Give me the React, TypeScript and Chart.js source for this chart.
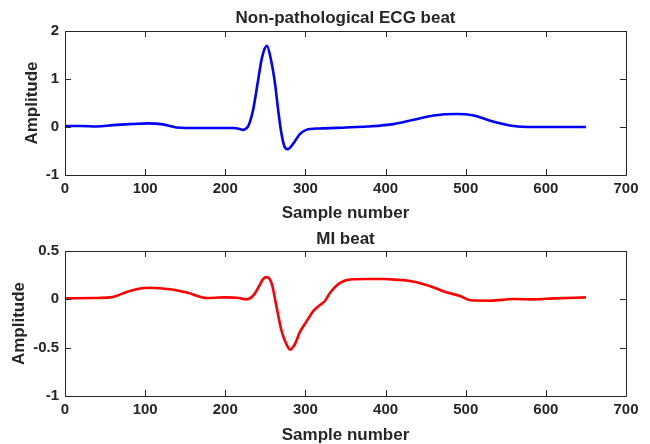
import React, { useEffect, useRef } from "react";
import { Chart, registerables } from "chart.js";

Chart.register(...registerables);

// ---- Data ----
const normalX = [0, 20, 40, 60, 80, 104, 120, 139, 151, 180, 210, 218, 222, 226, 229, 235, 241, 246, 252, 257, 262, 266, 270, 274, 278, 285, 293, 301, 318, 351, 377, 410, 435, 460, 489, 510, 535, 560, 585, 620, 650];
const normalY = [0.02, 0.02, 0.01, 0.04, 0.06, 0.075, 0.06, -0.01, -0.02, -0.02, -0.02, -0.04, -0.06, -0.03, 0.03, 0.38, 0.98, 1.46, 1.69, 1.4, 0.91, 0.35, -0.13, -0.41, -0.46, -0.34, -0.15, -0.06, -0.03, -0.01, 0.01, 0.06, 0.15, 0.24, 0.27, 0.24, 0.11, 0.02, 0.0, 0.0, 0.0];

const miX = [0, 35, 56, 64, 77, 92, 106, 131, 152, 177, 197, 214, 227, 235, 243, 247, 252, 258, 264, 270, 276, 281, 287, 293, 302, 310, 318, 324, 331, 340, 348, 356, 377, 398, 418, 427, 452, 477, 493, 506, 531, 560, 585, 610, 650];
const miY = [0.01, 0.014, 0.02, 0.035, 0.076, 0.11, 0.12, 0.104, 0.07, 0.014, 0.02, 0.017, 0.0, 0.04, 0.15, 0.21, 0.23, 0.16, -0.08, -0.32, -0.46, -0.52, -0.46, -0.34, -0.22, -0.12, -0.06, -0.02, 0.07, 0.15, 0.19, 0.205, 0.21, 0.21, 0.2, 0.195, 0.146, 0.07, 0.035, -0.01, -0.014, 0.003, 0.0, 0.01, 0.02];

const xTickMin = 0;
const xTickMax = 700;
const xTickStep = 100;

const topTitle = "Non-pathological ECG beat";
const bottomTitle = "MI beat";
const xLabel = "Sample number";
const yLabel = "Amplitude";

const TEXT = "#262626";
const FONT = '"Liberation Sans", Arial, Helvetica, sans-serif';

function framePlugin(title: string, titleY: number) {
  return {
    id: "frame",
    afterDraw(chart: any) {
      const { ctx, chartArea } = chart;
      const { left, right, top, bottom } = chartArea;
      const xs = chart.scales.x;
      const ys = chart.scales.y;
      ctx.save();
      ctx.strokeStyle = TEXT;
      ctx.lineWidth = 1;
      ctx.beginPath();
      ctx.rect(Math.round(left) + 0.5, Math.round(top) + 0.5, Math.round(right - left), Math.round(bottom - top));
      ctx.stroke();
      const tl = 6;
      ctx.beginPath();
      xs.ticks.forEach((t: any) => {
        const p = Math.round(xs.getPixelForValue(t.value)) + 0.5;
        ctx.moveTo(p, bottom);
        ctx.lineTo(p, bottom - tl);
        ctx.moveTo(p, top);
        ctx.lineTo(p, top + tl);
      });
      ys.ticks.forEach((t: any) => {
        const p = Math.round(ys.getPixelForValue(t.value)) + 0.5;
        ctx.moveTo(left, p);
        ctx.lineTo(left + tl, p);
        ctx.moveTo(right, p);
        ctx.lineTo(right - tl, p);
      });
      ctx.stroke();
      ctx.fillStyle = TEXT;
      ctx.font = `bold 17px ${FONT}`;
      ctx.textAlign = "center";
      ctx.textBaseline = "middle";
      ctx.fillText(title, (left + right) / 2, titleY);
      ctx.restore();
    },
  };
}

const fmt = (v: any) => `${+Number(v).toFixed(2)}`;

function makeConfig(
  xs: number[],
  ys: number[],
  color: string,
  yMin: number,
  yMax: number,
  yStep: number,
  padTop: number,
  xAxisHeight: number,
  yTitlePad: number,
  title: string,
  titleY: number
): any {
  return {
    type: "line",
    data: {
      datasets: [
        {
          data: xs.map((x, i) => ({ x, y: ys[i] })),
          borderColor: color,
          borderWidth: 2.6,
          pointRadius: 0,
          fill: false,
          cubicInterpolationMode: "monotone",
        },
      ],
    },
    options: {
      responsive: false,
      animation: false,
      devicePixelRatio: 1,
      layout: { padding: { top: padTop, right: 24, left: 0, bottom: 0 } },
      plugins: { legend: { display: false }, tooltip: { enabled: false }, title: { display: false } },
      scales: {
        x: {
          type: "linear",
          min: xTickMin,
          max: xTickMax,
          grid: { display: false, drawTicks: false },
          border: { display: false },
          ticks: { stepSize: xTickStep, color: TEXT, padding: 5, font: { family: FONT, size: 15, weight: "bold" }, maxRotation: 0, callback: fmt },
          title: { display: true, text: xLabel, color: TEXT, padding: { top: 0, bottom: 0 }, font: { family: FONT, size: 17, weight: "bold", lineHeight: 1 } },
          afterFit: (s: any) => {
            s.height = xAxisHeight;
          },
        },
        y: {
          min: yMin,
          max: yMax,
          grid: { display: false, drawTicks: false },
          border: { display: false },
          ticks: { stepSize: yStep, color: TEXT, padding: 6, font: { family: FONT, size: 15, weight: "bold" }, callback: fmt },
          title: { display: true, text: yLabel, color: TEXT, padding: { top: yTitlePad, bottom: 0 }, font: { family: FONT, size: 17, weight: "bold", lineHeight: 1 } },
          afterFit: (s: any) => {
            s.width = 65;
          },
        },
      },
    },
    plugins: [framePlugin(title, titleY)],
  };
}

export default function App() {
  const topRef = useRef<HTMLCanvasElement>(null);
  const botRef = useRef<HTMLCanvasElement>(null);

  useEffect(() => {
    const c1 = new Chart(
      topRef.current as HTMLCanvasElement,
      makeConfig(normalX, normalY, "#0000FF", -1, 2, 1, 31, 47, 24, topTitle, 18.5)
    );
    const c2 = new Chart(
      botRef.current as HTMLCanvasElement,
      makeConfig(miX, miY, "#FF0000", -1, 0.5, 0.5, 29, 48, 10.5, bottomTitle, 17)
    );
    return () => {
      c1.destroy();
      c2.destroy();
    };
  }, []);

  return (
    <div style={{ position: "absolute", left: 0, top: 0, width: 650, height: 444, background: "#fff" }}>
      <canvas ref={topRef} width={650} height={222} style={{ display: "block", width: 650, height: 222 }} />
      <canvas ref={botRef} width={650} height={222} style={{ display: "block", width: 650, height: 222 }} />
    </div>
  );
}
